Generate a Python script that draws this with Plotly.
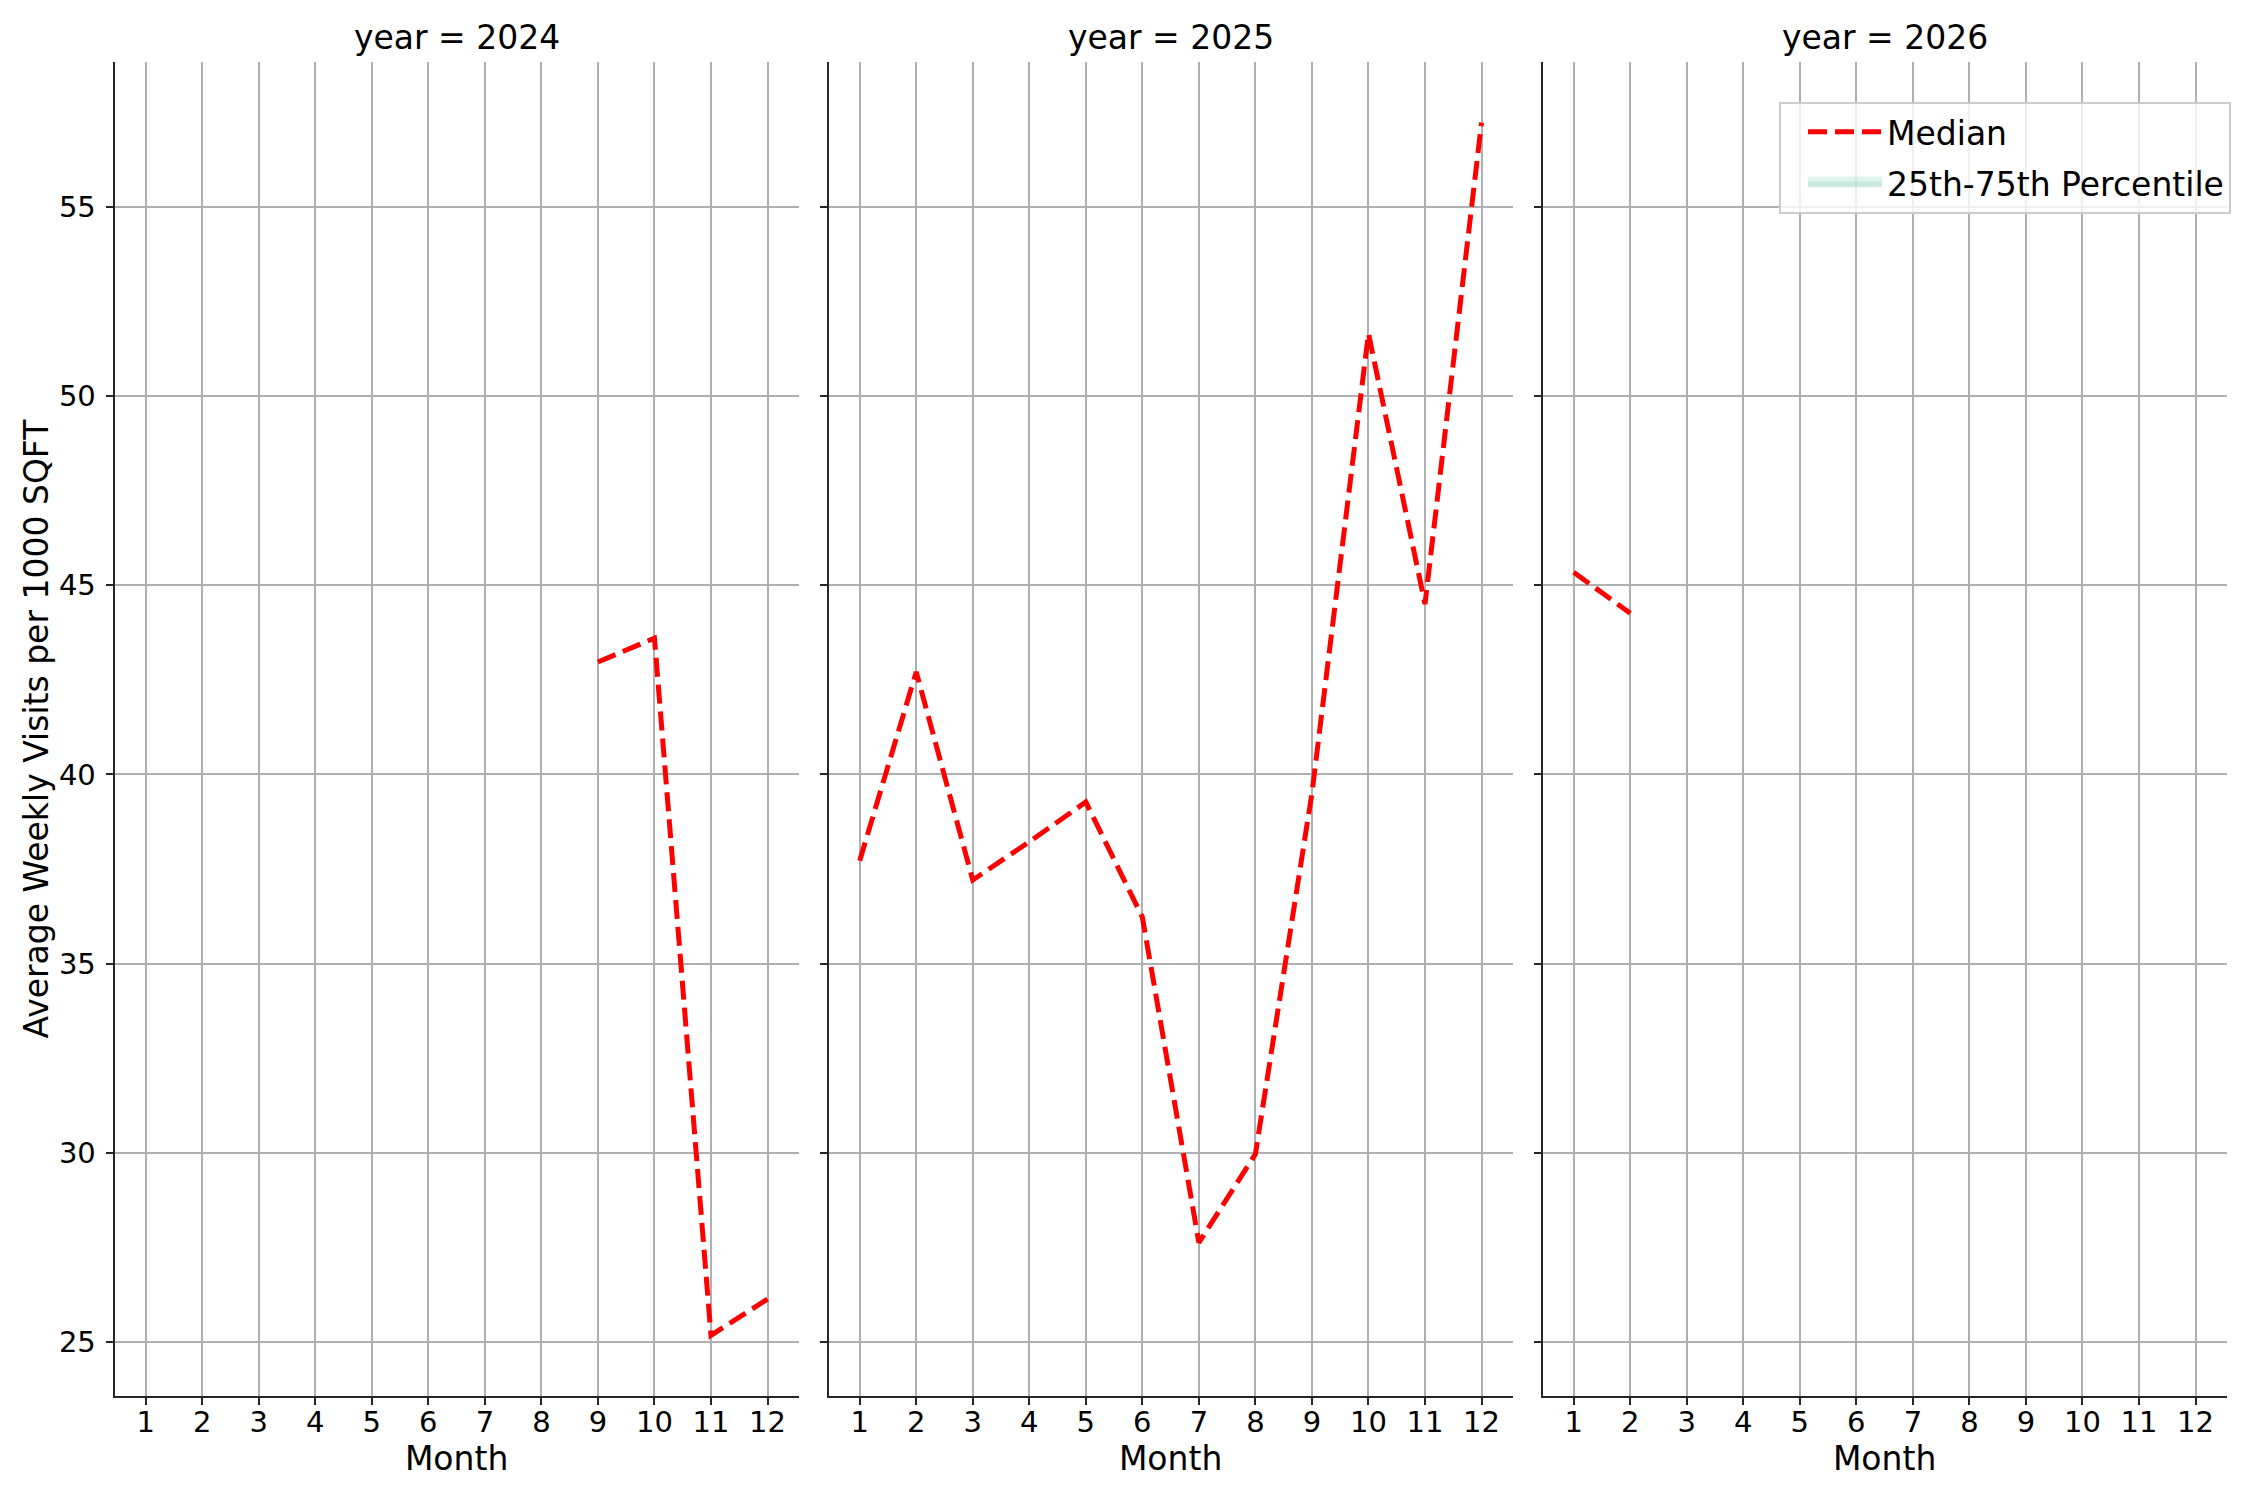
import plotly.graph_objects as go

# ---------------- data ----------------
years = [2024, 2025, 2026]
month_ticks = [1, 2, 3, 4, 5, 6, 7, 8, 9, 10, 11, 12]
month_labels = ["1", "2", "3", "4", "5", "6", "7", "8", "9", "10", "11", "12"]
y_ticks = [25, 30, 35, 40, 45, 50, 55]

months_2024 = [9, 10, 11, 12]
median_2024 = [42.97, 43.60, 25.18, 26.14]

months_2025 = [1, 2, 3, 4, 5, 6, 7, 8, 9, 10, 11, 12]
median_2025 = [37.72, 42.71, 37.21, 38.22, 39.27, 36.23, 27.63, 29.97, 39.50, 51.65, 44.50, 57.22]

months_2026 = [1, 2]
median_2026 = [45.34, 44.26]

# 25th-75th percentile band: no band is visible in the reference (missing values)
band_months = [None]
band_p25 = [None]
band_p75 = [None]

y_title = "Average Weekly Visits per 1000 SQFT"
x_title = "Month"
median_name = "Median"
band_name = "25th-75th Percentile"

series = [
    (months_2024, median_2024),
    (months_2025, median_2025),
    (months_2026, median_2026),
]

# ---------------- layout geometry ----------------
OFF = 8                      # browser body margin
W, H = 2250 - OFF, 1500 - OFF
def px(v):                   # screen px -> figure px
    return v - OFF

panels_px = [(114.6, 798.6), (828.6, 1512.6), (1542.6, 2226.6)]
y_dom = [1 - px(1396) / H, 1 - px(62) / H]
FONT = "DejaVu Sans"
TXT = "#000000"
AX = "#262626"
GRID = "#b0b0b0"
RED = "#ff0000"
BAND = "rgba(102,194,165,0.2)"

ymin = min(min(s[1]) for s in series)
ymax = max(max(s[1]) for s in series)
pad = 0.05 * (ymax - ymin)
y_range = [ymin - pad, ymax + pad]
x_range = [0.45, 12.55]

fig = go.Figure()

for i, (mx, my) in enumerate(series):
    ax = "" if i == 0 else str(i + 1)
    fig.add_trace(go.Scatter(
        x=mx, y=my, mode="lines", name=median_name,
        line=dict(color=RED, width=5, dash="19px,8px"),
        legendgroup="median", showlegend=(i == 0),
        xaxis="x" + ax, yaxis="y" + ax, hoverinfo="x+y",
    ))

# percentile band (legend entry; band values are missing)
fig.add_trace(go.Scatter(
    x=band_months + band_months[::-1], y=band_p25 + band_p75[::-1],
    mode="lines", fill="toself", fillcolor=BAND, name=band_name,
    line=dict(color=BAND, width=23),
    legendgroup="band", showlegend=True, xaxis="x3", yaxis="y3",
))

layout = dict(
    width=W, height=H,
    margin=dict(l=0, r=0, t=0, b=0),
    paper_bgcolor="white", plot_bgcolor="white",
    font=dict(family=FONT, color=TXT, size=29),
    showlegend=True,
    legend=dict(
        x=px(2231) / W, xanchor="right", y=1 - px(101.7) / H, yanchor="top",
        bgcolor="rgba(255,255,255,0.8)", bordercolor="#cccccc", borderwidth=2,
        font=dict(family=FONT, size=33, color=TXT),
        itemwidth=74, tracegroupgap=6, indentation=22,
    ),
    annotations=[],
)

for i, yr in enumerate(years):
    ax = "" if i == 0 else str(i + 1)
    x0, x1 = px(panels_px[i][0]), px(panels_px[i][1])
    layout["xaxis" + ax] = dict(
        domain=[x0 / W, x1 / W], anchor="y" + ax, range=x_range,
        tickmode="array", tickvals=month_ticks, ticktext=month_labels,
        showgrid=True, gridcolor=GRID, gridwidth=1.7,
        showline=True, linecolor=AX, linewidth=2, mirror=False,
        ticks="outside", ticklen=7, tickwidth=1.7, tickcolor=AX,
        tickfont=dict(family=FONT, size=29, color=TXT),
        ticklabelstandoff=-8,
        title=dict(text=x_title, font=dict(family=FONT, size=33, color=TXT), standoff=2),
        zeroline=False, automargin=False,
    )
    layout["yaxis" + ax] = dict(
        domain=y_dom, anchor="x" + ax, range=y_range,
        tickmode="array", tickvals=y_ticks,
        showticklabels=(i == 0),
        showgrid=True, gridcolor=GRID, gridwidth=1.7,
        showline=True, linecolor=AX, linewidth=2, mirror=False,
        ticks="outside", ticklen=7, tickwidth=1.7, tickcolor=AX,
        tickfont=dict(family=FONT, size=29, color=TXT),
        ticklabelstandoff=4,
        zeroline=False, automargin=False,
    )
    if i == 0:
        layout["yaxis"]["title"] = dict(text=y_title, font=dict(family=FONT, size=33, color=TXT), standoff=0)
    layout["annotations"].append(dict(
        text=f"year = {yr}", x=(x0 + x1) / 2 / W, y=1 - px(59) / H,
        xref="paper", yref="paper", xanchor="center", yanchor="bottom",
        showarrow=False, font=dict(family=FONT, size=33, color=TXT),
    ))

fig.update_layout(**layout)
fig.write_html("out.html")
